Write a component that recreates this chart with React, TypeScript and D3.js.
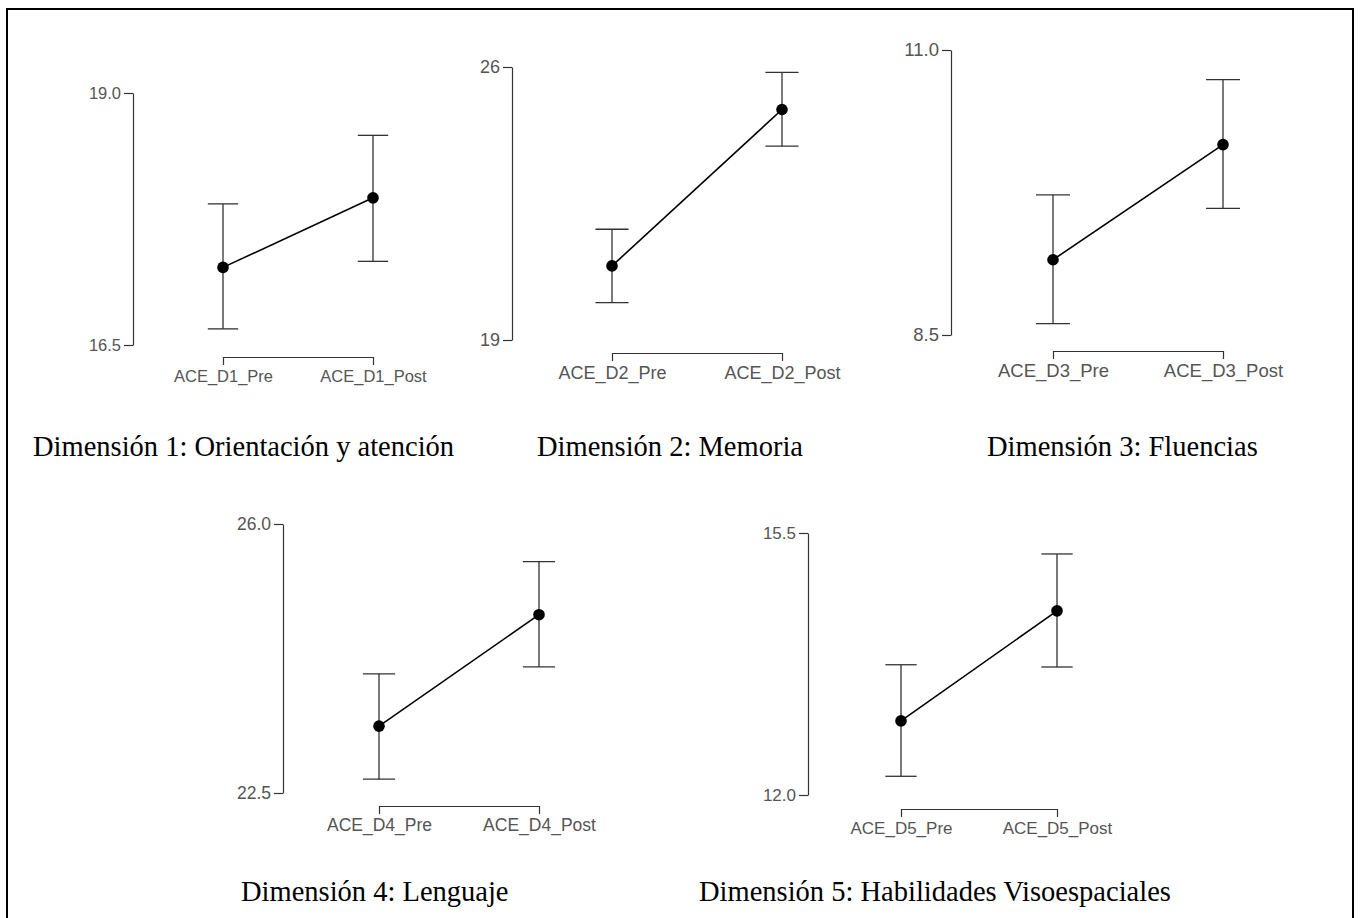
import React, { useEffect, useRef } from "react";
import * as d3 from "d3";

// captions under each plot
const captions = [
  "Dimensión 1: Orientación y atención",
  "Dimensión 2: Memoria",
  "Dimensión 3: Fluencias",
  "Dimensión 4: Lenguaje",
  "Dimensión 5: Habilidades Visoespaciales",
];

const categories = [
  ["ACE_D1_Pre", "ACE_D1_Post"],
  ["ACE_D2_Pre", "ACE_D2_Post"],
  ["ACE_D3_Pre", "ACE_D3_Post"],
  ["ACE_D4_Pre", "ACE_D4_Post"],
  ["ACE_D5_Pre", "ACE_D5_Post"],
];

const yTickValues = [
  [16.5, 19.0],
  [19, 26],
  [8.5, 11.0],
  [22.5, 26.0],
  [12.0, 15.5],
];
const yTickLabels = [
  ["16.5", "19.0"],
  ["19", "26"],
  ["8.5", "11.0"],
  ["22.5", "26.0"],
  ["12.0", "15.5"],
];

// means and confidence intervals, pre / post
const meanPre = [17.27, 20.9, 9.16, 23.37, 12.99];
const lowPre = [16.66, 19.96, 8.6, 22.68, 12.25];
const highPre = [17.9, 21.84, 9.73, 24.05, 13.74];
const meanPost = [17.96, 24.91, 10.17, 24.82, 14.46];
const lowPost = [17.33, 23.97, 9.61, 24.14, 13.71];
const highPost = [18.58, 25.86, 10.74, 25.51, 15.22];

// where each little plot sits on the page
const panels = [
  { axisX: 133, top: 93, bottom: 345, x0: 223, x1: 373, bracketY: 357, font: 16.5, capX: 33, capY: 456 },
  { axisX: 512, top: 67, bottom: 340, x0: 612, x1: 782, bracketY: 353, font: 18, capX: 537, capY: 456 },
  { axisX: 951, top: 50, bottom: 335, x0: 1053, x1: 1223, bracketY: 351, font: 18.5, capX: 987, capY: 456 },
  { axisX: 283, top: 524, bottom: 793, x0: 379, x1: 539, bracketY: 806, font: 17.5, capX: 241, capY: 901 },
  { axisX: 808, top: 533, bottom: 795, x0: 901, x1: 1057, bracketY: 809, font: 17, capX: 699, capY: 901 },
];

const W = 1362;
const H = 918;

const App = () => {
  const ref = useRef<SVGSVGElement>(null);

  useEffect(() => {
    const svg = d3.select(ref.current);
    svg.selectAll("*").remove();

    // frame, open at the bottom
    svg.append("path")
      .attr("d", `M7,${H + 2}V9H1353V${H + 2}`)
      .attr("fill", "none")
      .attr("stroke", "#000")
      .attr("stroke-width", 2);

    panels.forEach((p, i) => {
      const g = svg.append("g");
      const y = d3.scaleLinear().domain([yTickValues[i][0], yTickValues[i][1]]).range([p.bottom, p.top]);
      const x = d3.scalePoint<string>().domain(categories[i]).range([p.x0, p.x1]);

      const yAxis = d3.axisLeft(y)
        .tickValues(yTickValues[i])
        .tickFormat((d, k) => yTickLabels[i][k])
        .tickSizeInner(9)
        .tickSizeOuter(0)
        .tickPadding(3);
      const ya = g.append("g").attr("transform", `translate(${p.axisX},0)`).call(yAxis);

      const xAxis = d3.axisBottom(x).tickSizeInner(8).tickSizeOuter(0).tickPadding(5);
      const xa = g.append("g").attr("transform", `translate(0,${p.bracketY})`).call(xAxis);

      [ya, xa].forEach((a) => {
        a.selectAll("path, line").attr("stroke", "#333").attr("stroke-width", 1.2);
        a.selectAll("text")
          .attr("fill", "#555")
          .style("font-family", "'Liberation Sans', Arial, sans-serif")
          .style("font-size", `${p.font}px`);
      });

      const pts = [
        { c: categories[i][0], m: meanPre[i], lo: lowPre[i], hi: highPre[i] },
        { c: categories[i][1], m: meanPost[i], lo: lowPost[i], hi: highPost[i] },
      ];
      const cap = p.font * 0.92;

      pts.forEach((d) => {
        const cx = x(d.c) as number;
        g.append("line").attr("x1", cx).attr("x2", cx).attr("y1", y(d.lo)).attr("y2", y(d.hi))
          .attr("stroke", "#333").attr("stroke-width", 1.3);
        [d.lo, d.hi].forEach((v) => {
          g.append("line").attr("x1", cx - cap).attr("x2", cx + cap).attr("y1", y(v)).attr("y2", y(v))
            .attr("stroke", "#333").attr("stroke-width", 1.3);
        });
      });

      const line = d3.line<any>().x((d) => x(d.c) as number).y((d) => y(d.m));
      g.append("path").attr("d", line(pts)).attr("fill", "none").attr("stroke", "#000").attr("stroke-width", 1.6);

      g.selectAll("circle")
        .data(pts)
        .enter()
        .append("circle")
        .attr("cx", (d) => x(d.c) as number)
        .attr("cy", (d) => y(d.m))
        .attr("r", 5.8)
        .attr("fill", "#000");

      svg.append("text")
        .attr("x", p.capX)
        .attr("y", p.capY)
        .text(captions[i])
        .style("font-family", "'Liberation Serif', 'Times New Roman', serif")
        .style("font-size", "28.5px")
        .attr("fill", "#000");
    });
  }, []);

  return (
    <svg ref={ref} width={W} height={H} style={{ position: "absolute", left: 0, top: 0, background: "#fff" }}></svg>
  );
};

export default App;
